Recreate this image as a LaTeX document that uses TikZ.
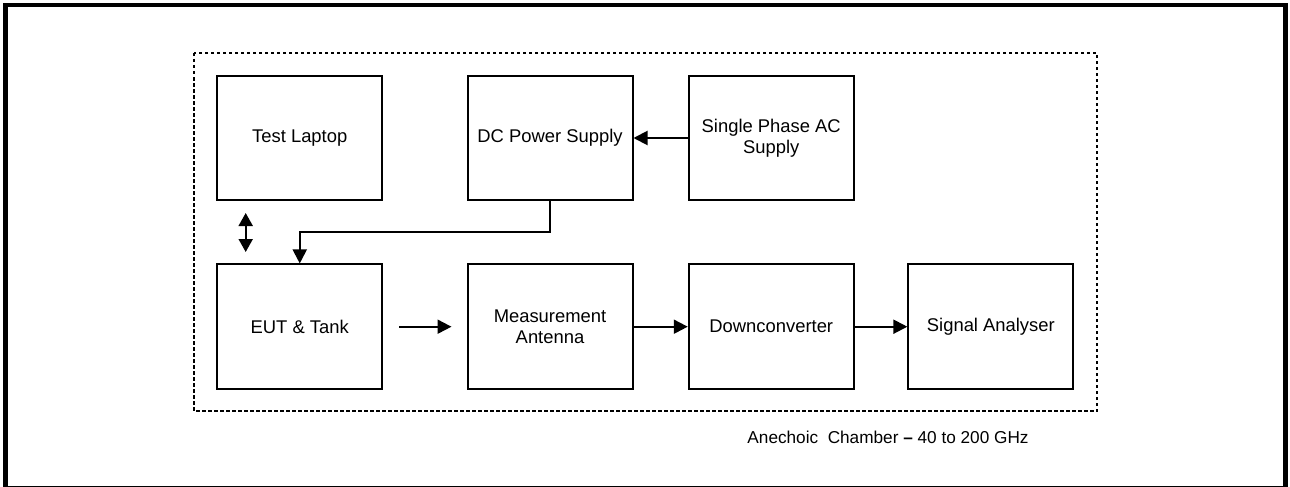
\documentclass[tikz,border=0pt]{standalone}
\usepackage{fontspec}
\setmainfont{Liberation Sans}
\usetikzlibrary{arrows.meta}
\begin{document}
\begin{tikzpicture}[x=1pt,y=-1pt,
  blk/.style={draw=black, line width=2pt, minimum width=165pt, minimum height=124.5pt,
    inner sep=0pt, align=center, font=\fontsize{18.4pt}{21.5pt}\selectfont},
  conn/.style={line width=2pt, -{Triangle[length=14pt,width=14pt]}},
  dconn/.style={line width=2pt, {Triangle[length=13pt,width=14pt]}-{Triangle[length=13pt,width=14pt]}},
  frame/.style={line width=4.2pt},
  chamber/.style={line width=2pt, dash pattern=on 3.5pt off 2.5pt}]
\useasboundingbox (0,0) rectangle (1290,487);
\clip (0,0) rectangle (1290,487);
% outer frame
\draw[frame] (5.5,5) rectangle (1285.5,487.8);
% anechoic chamber
\draw[chamber] (194,53) rectangle (1097,411);
\node[font=\fontsize{17.2pt}{20pt}\selectfont] (lbl) at (888,437) {Anechoic\ \ Chamber \textbf{--} 40 to 200 GHz};
% blocks
\node[blk] (tl) at (299.75,138) {Test Laptop};
\node[blk] (dc) at (550,138) {DC Power Supply};
\node[blk] (ac) at (771.25,138) {Single Phase AC\\Supply};
\node[blk] (eut) at (299.75,326.7) {EUT \& Tank};
\node[blk] (ma) at (550,326.7) {Measurement\\Antenna};
\node[blk] (dn) at (771.25,326.7) {Downconverter};
\node[blk] (sa) at (990.85,326.7) {Signal Analyser};
% connectors
\draw[conn] (ac.west) -- (dc.east);
\draw[conn] (dc.south) -- ++(0,30.7) -| (eut.north);
\draw[conn] (ma.east) -- (dn.west);
\draw[conn] (dn.east) -- (sa.west);
\coordinate (e1) at ([xshift=16pt]eut.east);
\coordinate (e2) at ([xshift=-15pt]ma.west);
\draw[conn] (e1) -- (e2);
\coordinate (d1) at (245.7,213);
\coordinate (d2) at (245.7,252);
\draw[dconn] (d1) -- (d2);
\end{tikzpicture}
\end{document}
